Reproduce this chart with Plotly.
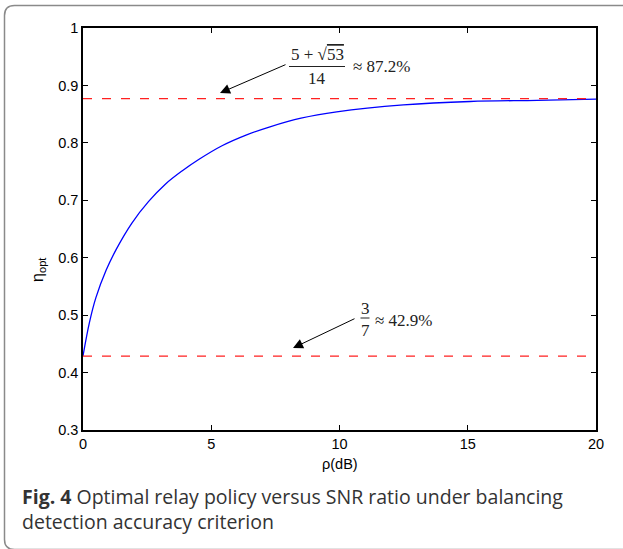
import plotly.graph_objects as go

# ---- data ----
rho_db = [0, 0.25, 0.5, 0.9, 1.3, 1.9, 2.56, 3.21, 3.86, 4.51, 5.42,
          6.38, 7.29, 8.5, 9.89, 12.49, 15.09, 17.7, 20]
eta_opt = [0.429, 0.487, 0.530, 0.578, 0.615, 0.660, 0.698, 0.728, 0.751, 0.771,
           0.795, 0.814, 0.828, 0.843, 0.854, 0.866, 0.872, 0.874, 0.876]
upper_limit = (5 + 53 ** 0.5) / 14
lower_limit = 3 / 7
x_ticks = [0, 5, 10, 15, 20]
y_ticks = [0.3, 0.4, 0.5, 0.6, 0.7, 0.8, 0.9, 1.0]
y_ticklabels = ["0.3", "0.4", "0.5", "0.6", "0.7", "0.8", "0.9", "1"]

W, H = 623, 549
L, R, T, B = 83, 596, 28, 430
PW, PH = R - L, B - T


def px(xp):
    return (xp - L) / PW


def py(yp):
    return (B - yp) / PH


fig = go.Figure()
fig.add_trace(go.Scatter(x=rho_db, y=eta_opt, mode="lines",
                         line=dict(color="#0000ff", width=1.3, shape="spline", smoothing=1.0),
                         showlegend=False))
for v in (upper_limit, lower_limit):
    fig.add_trace(go.Scatter(x=[x_ticks[0], x_ticks[-1]], y=[v, v], mode="lines",
                             line=dict(color="#ff2020", width=1.3, dash="9px,10px"),
                             showlegend=False))

axis_font = dict(family="Liberation Sans, Arial", size=14.5, color="black")
fig.update_xaxes(range=[0, 20], tickvals=x_ticks, ticks="inside", ticklen=5,
                 tickwidth=1, tickcolor="black", showline=True, linecolor="black",
                 linewidth=1.5, mirror="ticks", showgrid=False, zeroline=False,
                 tickfont=axis_font)
fig.update_yaxes(range=[0.3, 1.0], tickvals=y_ticks, ticktext=y_ticklabels,
                 ticks="inside", ticklen=5, tickwidth=1, tickcolor="black",
                 showline=True, linecolor="black", linewidth=1.5, mirror="ticks",
                 showgrid=False, zeroline=False, tickfont=axis_font)

serif = dict(family="Liberation Serif, DejaVu Serif", size=17, color="#222222")
ann = []
# axis titles
ann.append(dict(text="ρ(dB)", x=px(340), y=py(464), xref="paper", yref="paper",
                showarrow=False, font=axis_font, xanchor="center", yanchor="middle"))
ann.append(dict(text="η<sub>opt</sub>", x=px(38), y=py(270), xref="paper", yref="paper",
                showarrow=False, font=dict(family="Liberation Sans, Arial", size=16, color="black"),
                textangle=-90, xanchor="center", yanchor="middle"))
# upper fraction
ann.append(dict(text="5 + √<span style='text-decoration:overline'>53</span>",
                x=px(317), y=py(55), xref="paper", yref="paper", showarrow=False,
                font=serif, xanchor="center", yanchor="middle"))
ann.append(dict(text="14", x=px(317), y=py(78), xref="paper", yref="paper",
                showarrow=False, font=serif, xanchor="center", yanchor="middle"))
ann.append(dict(text="≈ 87.2%", x=px(351), y=py(67), xref="paper", yref="paper",
                showarrow=False, font=serif, xanchor="left", yanchor="middle"))
# lower fraction
ann.append(dict(text="3", x=px(365), y=py(308), xref="paper", yref="paper",
                showarrow=False, font=serif, xanchor="center", yanchor="middle"))
ann.append(dict(text="7", x=px(365), y=py(330), xref="paper", yref="paper",
                showarrow=False, font=serif, xanchor="center", yanchor="middle"))
ann.append(dict(text="≈ 42.9%", x=px(373), y=py(320), xref="paper", yref="paper",
                showarrow=False, font=serif, xanchor="left", yanchor="middle"))
# arrows
for (hx, hy, tx, ty) in [(220, 93, 287, 64), (293, 348, 356, 318)]:
    ann.append(dict(text="", x=px(hx), y=py(hy), xref="paper", yref="paper",
                    ax=tx - hx, ay=ty - hy, axref="pixel", ayref="pixel",
                    showarrow=True, arrowhead=2, arrowsize=2, arrowwidth=1,
                    arrowcolor="black"))
# caption
cap_font = dict(family="Open Sans, Noto Sans", size=19.5, color="#333333")
ann.append(dict(text="<b>Fig. 4</b> Optimal relay policy versus SNR ratio under balancing",
                x=px(20), y=py(496), xref="paper", yref="paper", showarrow=False,
                font=cap_font, xanchor="left", yanchor="middle"))
ann.append(dict(text="detection accuracy criterion",
                x=px(20), y=py(521), xref="paper", yref="paper", showarrow=False,
                font=cap_font, xanchor="left", yanchor="middle"))
fig.update_layout(annotations=ann)

shapes = []
# fraction bars
shapes.append(dict(type="line", xref="paper", yref="paper", x0=px(289), x1=px(345),
                   y0=py(66.5), y1=py(66.5), line=dict(color="#222222", width=1)))
shapes.append(dict(type="line", xref="paper", yref="paper", x0=px(360.5), x1=px(369.5),
                   y0=py(318), y1=py(318), line=dict(color="#222222", width=1)))
# rounded outer frame
x0, x1, y0, y1, r = 4.5, 640, 5.5, 549.5, 10
path = (f"M {px(x1)},{py(y0)} L {px(x0 + r)},{py(y0)} "
        f"Q {px(x0)},{py(y0)} {px(x0)},{py(y0 + r)} "
        f"L {px(x0)},{py(y1 - r)} Q {px(x0)},{py(y1)} {px(x0 + r)},{py(y1)} "
        f"L {px(x1)},{py(y1)}")
shapes.append(dict(type="path", xref="paper", yref="paper", path=path,
                   line=dict(color="#8a8a8a", width=1.5)))
fig.update_layout(shapes=shapes)

fig.update_layout(width=W, height=H, margin=dict(l=L, r=W - R, t=T, b=H - B),
                  paper_bgcolor="white", plot_bgcolor="white")
fig.write_html("out.html")
